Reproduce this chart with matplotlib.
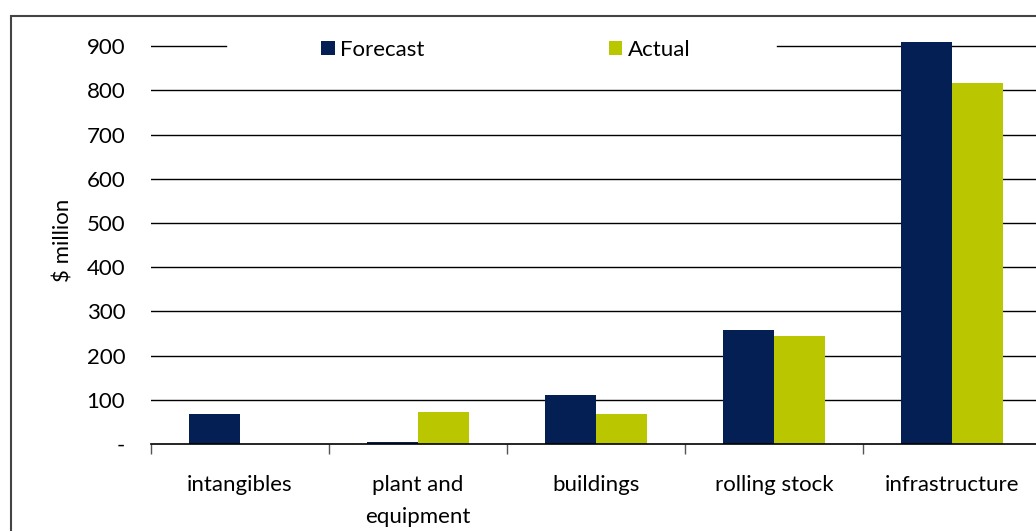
import matplotlib
matplotlib.use("Agg")
import matplotlib.pyplot as plt
from matplotlib.patches import Rectangle
import numpy as np

categories = ["intangibles", "plant and\nequipment", "buildings", "rolling stock", "infrastructure"]
forecast = [68, 5, 111, 258, 909]
actual = [0, 72, 68, 244, 817]
yticks = [0, 100, 200, 300, 400, 500, 600, 700, 800, 900]
ytick_labels = ["-", "100", "200", "300", "400", "500", "600", "700", "800", "900"]

navy = "#031F53"
lime = "#B9C600"

plt.rcParams["font.family"] = ["Lato", "DejaVu Sans"]
plt.rcParams["font.size"] = 16

W, H = 1036, 531
fig = plt.figure(figsize=(W / 100, H / 100), dpi=100)
# plot area runs past the right edge of the image
ax = fig.add_axes([151 / W, 87 / H, 890 / W, 406.6 / H])

x = np.arange(len(categories))
bw = 0.287
ax.bar(x - bw / 2, forecast, bw, color=navy, label="Forecast", zorder=3)
ax.bar(x + bw / 2, actual, bw, color=lime, label="Actual", zorder=3)

ax.set_xlim(-0.5, len(categories) - 0.5)
ax.set_ylim(0, 920)

# horizontal gridlines; the top one stops either side of the legend
for y in yticks[1:-1]:
    ax.axhline(y, color="black", lw=1.0, zorder=1)
ax.axhline(900, xmax=(226 - 151) / 890, color="black", lw=1.0, zorder=1)
ax.axhline(900, xmin=(777 - 151) / 890, color="black", lw=1.0, zorder=1)

for s in ["top", "right", "left"]:
    ax.spines[s].set_visible(False)
ax.spines["bottom"].set_color("black")
ax.spines["bottom"].set_linewidth(1.2)
ax.spines["bottom"].set_zorder(4)

ax.set_yticks(yticks)
ax.set_yticklabels(ytick_labels)
ax.tick_params(axis="y", length=0, pad=18.5, labelcolor="black")

ax.set_xticks(x)
ax.set_xticklabels(categories, linespacing=1.75, va="top")
ax.set_xticks(np.arange(len(categories) + 1) - 0.5, minor=True)
ax.tick_params(axis="x", which="major", length=0, pad=22)
ax.tick_params(axis="x", which="minor", length=7, width=1, color="#555555", direction="out")

ax.set_ylabel("$ million", labelpad=9.5)

ax.legend(loc="center", bbox_to_anchor=((506 - 151) / 890, (444 - 50) / 406.6),
          ncol=2, frameon=False, handlelength=0.6, handleheight=0.6,
          handletextpad=0.25, columnspacing=8.3, borderaxespad=0)

# outer chart frame
fig.add_artist(Rectangle((11 / W, -0.2), 1.5, (H - 16) / H + 0.2,
                         transform=fig.transFigure, fill=False,
                         edgecolor="#444444", lw=1.5, clip_on=False))

fig.savefig("out.png", dpi=100)
